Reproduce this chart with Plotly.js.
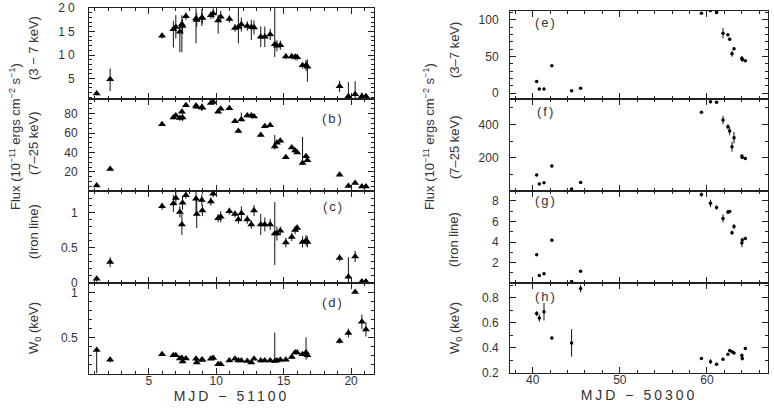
<!DOCTYPE html>
<html><head><meta charset="utf-8">
<script src="https://cdn.plot.ly/plotly-3.0.1.min.js"></script>
<style>
html,body{margin:0;padding:0;background:#fff;}
g.xtick text, g.ytick text { letter-spacing: 3px; }
text.x4title, text.x8title { letter-spacing: 3px; }
g.annotation[data-index="0"] text, g.annotation[data-index="1"] text, g.annotation[data-index="2"] text,
g.annotation[data-index="3"] text, g.annotation[data-index="4"] text, g.annotation[data-index="5"] text,
g.annotation[data-index="6"] text { letter-spacing: 2px; }
</style>
</head><body>
<div id="chart" style="width:774px;height:416px;"></div>
<script>
// ---------- Left column: MJD - 51100 ----------
const leftMJD = [1.13, 2.13, 5.98, 6.82, 7.0, 7.3, 7.45, 7.5, 7.75, 8.5, 8.55, 8.93, 8.97, 9.6, 9.77, 10.14, 10.33, 10.97, 11.39, 11.64, 11.86, 12.3, 12.6, 12.8, 13.3, 13.6, 14.0, 14.34, 14.5, 14.75, 15.16, 15.6, 15.85, 16.0, 16.4, 16.66, 16.76, 19.15, 19.8, 20.3, 20.8, 21.1];

// (a) flux 3-7 keV
const flux37L = [1.8, 4.8, 14.1, 15.5, 16.0, 15.0, 16.6, 16.2, 18.3, 17.8, 17.5, 18.0, 17.9, 18.5, 18.9, 17.4, 18.2, 17.7, 15.8, 16.0, 16.5, 16.2, 16.0, 15.9, 13.9, 13.9, 14.4, 12.3, 12.0, 12.1, 9.7, 9.7, 9.6, 9.5, 7.8, 7.8, 7.5, 3.3, 1.2, 1.6, 1.2, 1.2];
const flux37LUp = [0.4, 2.3, 0.6, 1.8, 2.5, 1.5, 1.9, 1.5, 0.8, 2.2, 1.5, 1.8, 1.2, 0.8, 1.1, 1.2, 1.2, 0.8, 0.8, 4.0, 1.5, 1.0, 1.5, 1.5, 2.2, 2.2, 1.2, 7.7, 1.2, 1.0, 0.6, 0.6, 0.7, 0.7, 0.7, 1.2, 1.5, 1.2, 3.0, 2.8, 0.8, 0.5];
const flux37LDn = [0.4, 2.5, 0.6, 3.9, 2.5, 4.4, 6.0, 1.5, 0.8, 5.3, 1.5, 1.8, 1.2, 0.8, 1.1, 2.8, 1.2, 0.8, 0.8, 3.5, 1.5, 1.0, 2.8, 1.5, 2.2, 2.2, 1.2, 2.7, 1.2, 1.0, 0.6, 0.6, 0.7, 0.7, 0.7, 1.2, 3.2, 1.2, 3.0, 2.8, 0.8, 0.5];

// (b) flux 7-25 keV
const flux725L = [6, 23, 69, 76, 78, 75.5, 82, 76, 88.5, 88, 87, 86.5, 86, 91, 92, 82, 85, 85.5, 72, 62, 74, 78, 78, 77, 58, 67, 68, 46, 50, 52, 35, 45, 42, 40, 29, 36, 32, 17, 5.5, 8.5, 5, 5];
const flux725LUp = [1.5, 1.5, 1.5, 2, 2, 3, 2, 4, 1.5, 2, 2, 4, 2, 1.5, 1.5, 1.5, 1.5, 1.5, 1.5, 1.5, 7, 1.5, 1.5, 1.5, 2, 2, 1.5, 12, 1.5, 1.5, 1.5, 1.5, 1.5, 1.5, 27, 2, 2, 1.5, 1.5, 1.5, 1.5, 1.5];
const flux725LDn = [1.5, 1.5, 1.5, 2, 2, 3, 2, 4, 1.5, 2, 2, 4, 2, 1.5, 1.5, 1.5, 1.5, 1.5, 1.5, 1.5, 2, 1.5, 1.5, 1.5, 2, 2, 1.5, 3, 1.5, 1.5, 1.5, 1.5, 1.5, 1.5, 2, 2, 2, 1.5, 1.5, 1.5, 1.5, 1.5];

// (c) iron line flux
const ironL = [0.05, 0.29, 1.09, 1.13, 1.21, 1.01, 0.83, 1.14, 1.25, 1.2, 0.98, 1.18, 1.03, 1.16, 1.27, 0.92, 0.94, 1.02, 0.98, 0.90, 0.99, 0.90, 0.83, 1.03, 0.83, 0.83, 0.83, 0.70, 0.70, 0.74, 0.57, 0.65, 0.75, 0.78, 0.58, 0.60, 0.58, 0.35, 0.08, 0.37, 0.01, 0.01];
const ironLErr = [0.04, 0.07, 0.05, 0.12, 0.1, 0.08, 0.15, 0.1, 0.05, 0.2, 0.2, 0.08, 0.08, 0.06, 0.05, 0.06, 0.08, 0.05, 0.05, 0.06, 0.1, 0.06, 0.06, 0.08, 0.15, 0.1, 0.08, 0.45, 0.1, 0.06, 0.07, 0.06, 0.06, 0.05, 0.08, 0.08, 0.08, 0.05, 0.28, 0.08, 0.03, 0.03];

// (d) W0
const w0L = [0.36, 0.25, 0.31, 0.30, 0.30, 0.265, 0.27, 0.23, 0.265, 0.26, 0.22, 0.25, 0.25, 0.26, 0.27, 0.20, 0.20, 0.24, 0.26, 0.24, 0.24, 0.235, 0.22, 0.26, 0.24, 0.24, 0.24, 0.235, 0.24, 0.25, 0.25, 0.28, 0.33, 0.33, 0.31, 0.33, 0.30, 0.46, 0.55, 1.01, 0.675, 0.59];
const w0LUp = [0.01, 0.03, 0.015, 0.015, 0.015, 0.015, 0.015, 0.02, 0.015, 0.02, 0.02, 0.015, 0.015, 0.015, 0.015, 0.015, 0.015, 0.015, 0.015, 0.015, 0.015, 0.015, 0.015, 0.015, 0.02, 0.015, 0.015, 0.32, 0.015, 0.015, 0.015, 0.015, 0.015, 0.015, 0.02, 0.17, 0.03, 0.03, 0.05, 0.015, 0.08, 0.08];
const w0LDn = [0.26, 0.03, 0.015, 0.015, 0.015, 0.015, 0.015, 0.02, 0.015, 0.02, 0.02, 0.015, 0.015, 0.015, 0.015, 0.015, 0.015, 0.015, 0.015, 0.015, 0.015, 0.015, 0.015, 0.015, 0.02, 0.015, 0.015, 0.015, 0.015, 0.015, 0.015, 0.015, 0.015, 0.015, 0.02, 0.08, 0.03, 0.03, 0.05, 0.015, 0.08, 0.08];

// ---------- Right column: MJD - 50300 ----------
const rightMJD = [40.46, 40.76, 41.3, 42.2, 44.47, 45.5, 59.36, 60.4, 61.1, 61.84, 62.4, 62.6, 62.87, 63.1, 64.0, 64.05, 64.4];
const flux37R = [15.9, 5.5, 5.5, 37.3, 3.2, 6.8, 109, 112.7, 110, 81.8, 79.5, 73.6, 53.6, 60.4, 47.7, 45.5, 44];
const flux37RErr = [1, 1, 1, 1, 1, 1, 1.5, 1.5, 1.5, 7, 2, 2, 4, 2, 3, 2, 1];
const flux725R = [96, 42, 50, 150, 12, 52, 472, 536, 532, 426, 386, 360, 266, 320, 210, 202, 196];
const flux725RErr = [5, 5, 5, 8, 5, 5, 8, 10, 8, 25, 15, 25, 30, 35, 10, 8, 5];
const ironR = [2.77, 0.75, 0.92, 4.17, 0.17, 1.17, 8.6, 7.75, 7.35, 6.28, 6.9, 6.95, 4.9, 5.5, 3.9, 4.2, 4.33];
const ironRErr = [0.1, 0.1, 0.1, 0.15, 0.1, 0.1, 0.2, 0.35, 0.2, 0.4, 0.2, 0.15, 0.2, 0.25, 0.4, 0.2, 0.15];
const w0R = [0.675, 0.64, 0.69, 0.48, 0.44, 0.875, 0.315, 0.29, 0.27, 0.31, 0.35, 0.38, 0.37, 0.36, 0.34, 0.315, 0.395];
const w0RErr = [0.02, 0.03, 0.07, 0.01, 0.11, 0.03, 0.01, 0.02, 0.01, 0.01, 0.01, 0.01, 0.01, 0.01, 0.015, 0.015, 0.01];

const panelLabels = ['(b)', '(c)', '(d)', '(e)', '(f)', '(g)', '(h)'];

// ---------- build ----------
const W = 774, H = 416;
const fx = p => p / W;
const fy = p => 1 - p / H;
const FONT = 'Liberation Sans, Arial, sans-serif';
const INK = '#222';
const TXT = '#333';

function errObj(up, dn) {
  return {type: 'data', symmetric: dn === undefined, array: up, arrayminus: dn, color: '#111', thickness: 1, width: 0, visible: true};
}
function leftTrace(y, up, dn, k) {
  return {x: leftMJD, y: y, type: 'scatter', mode: 'markers', xaxis: 'x' + k, yaxis: 'y' + k,
    marker: {symbol: 'triangle-up', size: 7, color: '#000'}, error_y: errObj(up, dn), hoverinfo: 'x+y'};
}
function rightTrace(y, err, k) {
  return {x: rightMJD, y: y, type: 'scatter', mode: 'markers', xaxis: 'x' + k, yaxis: 'y' + k,
    marker: {symbol: 'circle', size: 3.5, color: '#000'}, error_y: errObj(err), hoverinfo: 'x+y'};
}
const data = [
  leftTrace(flux37L, flux37LUp, flux37LDn, ''),
  leftTrace(flux725L, flux725LUp, flux725LDn, 2),
  leftTrace(ironL, ironLErr, undefined, 3),
  leftTrace(w0L, w0LUp, w0LDn, 4),
  rightTrace(flux37R, flux37RErr, 5),
  rightTrace(flux725R, flux725RErr, 6),
  rightTrace(ironR, ironRErr, 7),
  rightTrace(w0R, w0RErr, 8)
];

function axis(extra, minorDtick) {
  return Object.assign({
    showline: true, mirror: 'allticks', linecolor: INK, linewidth: 1,
    ticks: 'inside', ticklen: 6, tickwidth: 1, tickcolor: INK,
    showgrid: false, zeroline: false, fixedrange: true,
    tickfont: {family: FONT, size: 12, color: TXT},
    minor: {ticks: 'inside', ticklen: 3, tickwidth: 1, tickcolor: INK, dtick: minorDtick, showgrid: false}
  }, extra);
}
const LX = [fx(89), fx(374)], RX = [fx(510), fx(768)];
const xL = {range: [0.56, 21.7], tick0: 0, dtick: 5};
const xR = {range: [37.4, 67], tick0: 0, dtick: 10};
const xTitle = t => ({text: t, font: {family: FONT, size: 14, color: TXT}, standoff: 3});

const layout = {
  width: W, height: H, margin: {l: 0, r: 0, t: 0, b: 0},
  paper_bgcolor: '#fff', plot_bgcolor: '#fff', showlegend: false,
  font: {family: FONT, color: TXT},
  xaxis:  axis(Object.assign({domain: LX, anchor: 'y',  showticklabels: false}, xL), 1),
  xaxis2: axis(Object.assign({domain: LX, anchor: 'y2', showticklabels: false}, xL), 1),
  xaxis3: axis(Object.assign({domain: LX, anchor: 'y3', showticklabels: false}, xL), 1),
  xaxis4: axis(Object.assign({domain: LX, anchor: 'y4', ticklabelstandoff: -4, title: xTitle('MJD − 51100')}, xL), 1),
  xaxis5: axis(Object.assign({domain: RX, anchor: 'y5', showticklabels: false}, xR), 2),
  xaxis6: axis(Object.assign({domain: RX, anchor: 'y6', showticklabels: false}, xR), 2),
  xaxis7: axis(Object.assign({domain: RX, anchor: 'y7', showticklabels: false}, xR), 2),
  xaxis8: axis(Object.assign({domain: RX, anchor: 'y8', ticklabelstandoff: -4, title: xTitle('MJD − 50300')}, xR), 2),
  yaxis:  axis({domain: [fy(99), fy(8)],   anchor: 'x',  range: [0.6, 20.05], tick0: 0, dtick: 5, ticklabelstandoff: 8}, 1),
  yaxis2: axis({domain: [fy(191), fy(99)], anchor: 'x2', range: [0.3, 95], tick0: 0, dtick: 20, ticklabelstandoff: 8}, 5),
  yaxis3: axis({domain: [fy(283), fy(191)], anchor: 'x3', range: [-0.01, 1.31], tick0: 0, dtick: 0.5, ticklabelstandoff: 8}, 0.1),
  yaxis4: axis({domain: [fy(374), fy(283)], anchor: 'x4', range: [0.09, 1.11], tick0: 0, dtick: 0.5, ticklabelstandoff: 8}, 0.1),
  yaxis5: axis({domain: [fy(99), fy(11)],  anchor: 'x5', range: [-8, 112], tick0: 0, dtick: 50, ticklabelstandoff: 8}, 10),
  yaxis6: axis({domain: [fy(191), fy(99)], anchor: 'x6', range: [0.5, 552], tick0: 0, dtick: 200, ticklabelstandoff: 8}, 100),
  yaxis7: axis({domain: [fy(283), fy(191)], anchor: 'x7', range: [0.02, 8.95], tick0: 0, dtick: 2, ticklabelstandoff: 8}, 1),
  yaxis8: axis({domain: [fy(373), fy(283)], anchor: 'x8', range: [0.199, 0.92], tick0: 0, dtick: 0.2, ticklabelstandoff: 8}, 0.1),
  annotations: []
};

// panel labels
const labelPos = [[333, 118], [333, 206], [333, 302], [546, 22], [546, 111], [546, 201], [546, 296]];
panelLabels.forEach((t, i) => {
  layout.annotations.push({text: t, xref: 'paper', yref: 'paper', x: fx(labelPos[i][0]), y: fy(labelPos[i][1]),
    xanchor: 'center', yanchor: 'middle', showarrow: false, font: {family: FONT, size: 13, color: TXT}});
});

// y-axis labels (rotated)
function ylab(text, xp, yp) {
  layout.annotations.push({text: text, xref: 'paper', yref: 'paper', x: fx(xp), y: fy(yp), textangle: -90,
    xanchor: 'center', yanchor: 'middle', showarrow: false, font: {family: FONT, size: 13, color: TXT}});
}
const fluxLabel = 'Flux (10<sup>−11</sup> ergs cm<sup>−2</sup> s<sup>−1</sup>)';
ylab(fluxLabel, 15, 137);
ylab('(3 − 7 keV)', 33, 48);
ylab('(7–25 keV)', 33, 143);
ylab('(Iron line)', 33, 232);
ylab('W<sub>0</sub> (keV)', 34, 328);
ylab(fluxLabel, 429, 137);
ylab('(3–7 keV)', 454, 50);
ylab('(7–25 keV)', 454, 147);
ylab('(Iron line)', 454, 240);
ylab('W<sub>0</sub> (keV)', 455, 328);

Plotly.newPlot('chart', data, layout, {staticPlot: true, displayModeBar: false});
</script>
</body></html>
